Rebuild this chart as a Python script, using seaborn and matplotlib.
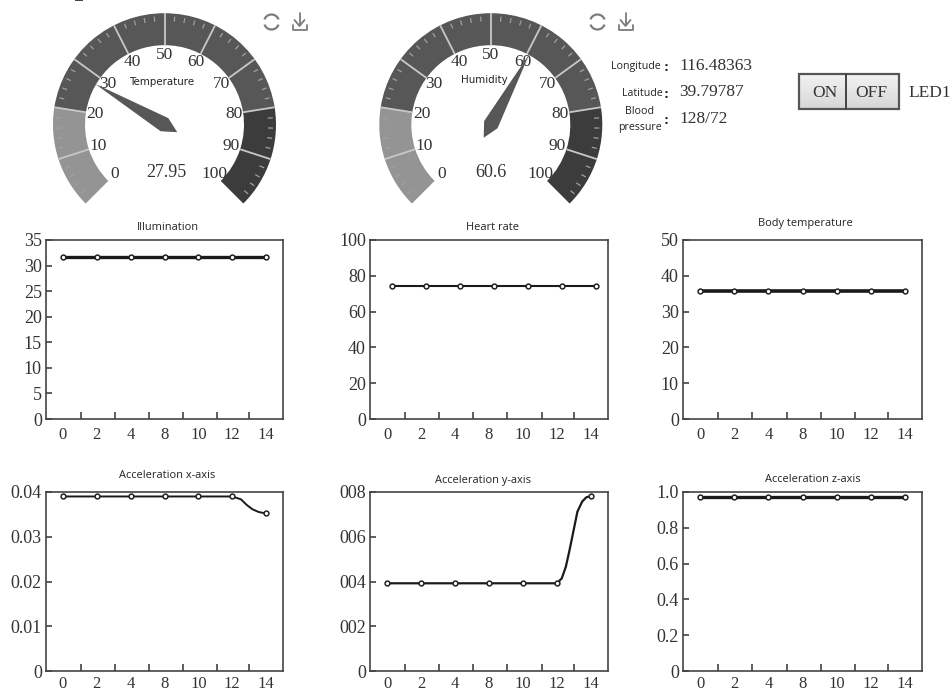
import numpy as np
import pandas as pd
import seaborn as sns
import matplotlib.pyplot as plt
from matplotlib.patches import Wedge, Polygon, Rectangle, Arc

# data
index = [0, 1, 2, 3, 4, 5, 6]
x_labels = ['0', '2', '4', '8', '10', '12', '14']
illumination = [31.7, 31.7, 31.7, 31.7, 31.7, 31.7, 31.7]
heart_rate = [74.5, 74.5, 74.5, 74.5, 74.5, 74.5, 74.5]
body_temp = [35.8, 35.8, 35.8, 35.8, 35.8, 35.8, 35.8]
acc_x = [0.039, 0.039, 0.039, 0.039, 0.039, 0.039, 0.0352]
acc_y = [3.92, 3.92, 3.92, 3.92, 3.92, 3.92, 7.82]
acc_z = [0.97, 0.97, 0.97, 0.97, 0.97, 0.97, 0.97]

# the curved end of the two acceleration lines
acc_x_bend_pos = [5, 5.26, 5.43, 5.6, 5.78, 6]
acc_x_bend = [0.039, 0.03836, 0.0371, 0.03613, 0.03553, 0.0352]
acc_y_bend_pos = [5, 5.14, 5.26, 5.37, 5.49, 5.6, 5.74, 5.86, 6]
acc_y_bend = [3.92, 4.14, 4.66, 5.41, 6.30, 7.12, 7.57, 7.76, 7.82]

gauge_ticks = [0, 10, 20, 30, 40, 50, 60, 70, 80, 90, 100]
gauge_bands = [0, 20, 80, 100]
gauge_colors = ['#949494', '#575757', '#3c3c3c']
temperature = 27.95
humidity = 60.6

W, H = 950, 691
sns.set_theme(style='white')
plt.rcParams['font.family'] = ['Liberation Serif', 'DejaVu Sans']
fig = plt.figure(figsize=(W / 100, H / 100), dpi=100)
ink = '#333333'


def add_chart(left, top, right, bottom, pos, values, ymax, yticks, ylabels, lw=2, shift=0.0, bend=None, xpad=6):
    ax = fig.add_axes([left / W, 1 - bottom / H, (right - left) / W, (bottom - top) / H])
    df = pd.DataFrame({'pos': np.array(pos) + shift, 'value': values})
    if bend is None:
        sns.lineplot(data=df, x='pos', y='value', color='#1a1a1a', lw=lw, ax=ax)
    else:
        head = pd.DataFrame({'pos': pos[:6], 'value': values[:6]})
        tail = pd.DataFrame({'pos': bend[0], 'value': bend[1]})
        sns.lineplot(data=pd.concat([head, tail[1:]]), x='pos', y='value', color='#1a1a1a', lw=lw, ax=ax,
                     sort=False, estimator=None)
    sns.scatterplot(data=df, x='pos', y='value', color='white', edgecolor='#222222', s=12, linewidth=1.1,
                    zorder=5, ax=ax)
    ax.set_xlim(-0.5, 6.5)
    ax.set_ylim(0, ymax)
    ax.set_xlabel('')
    ax.set_ylabel('')
    ax.set_xticks(index, x_labels)
    ax.set_xticks([0.52, 1.53, 2.54, 3.54, 4.55, 5.5], minor=True)
    ax.set_yticks(yticks, ylabels)
    ax.tick_params(axis='x', which='major', length=0, pad=xpad, labelsize=12, labelcolor=ink)
    ax.tick_params(axis='x', which='minor', direction='in', bottom=True, length=5, width=1.1, color=ink)
    ax.tick_params(axis='y', direction='in', left=True, length=4, width=1.1, pad=3, labelsize=13, color=ink,
                   labelcolor=ink)
    for s in ax.spines.values():
        s.set_color('#444444')
        s.set_linewidth(1.2)
    return ax


add_chart(46, 240, 283, 419, index, illumination, 35, [0, 5, 10, 15, 20, 25, 30, 35],
          ['0', '5', '10', '15', '20', '25', '30', '35'], lw=2.4)
add_chart(370, 240, 608, 419, index, heart_rate, 100, [0, 20, 40, 60, 80, 100],
          ['0', '20', '40', '60', '80', '100'], lw=1.5, shift=0.16)
add_chart(683, 240, 922, 419, index, body_temp, 50, [0, 10, 20, 30, 40, 50],
          ['0', '10', '20', '30', '40', '50'], lw=2.6)
add_chart(46, 492, 283, 671, index, acc_x, 0.04, [0, 0.01, 0.02, 0.03, 0.04],
          ['0', '0.01', '0.02', '0.03', '0.04'], lw=1.4, bend=(acc_x_bend_pos, acc_x_bend), xpad=3.5)
add_chart(370, 492, 608, 671, index, acc_y, 8, [0, 2, 4, 6, 8],
          ['0', '002', '004', '006', '008'], lw=1.6, bend=(acc_y_bend_pos, acc_y_bend), xpad=3.5)
add_chart(683, 492, 922, 671, index, acc_z, 1.0, [0, 0.2, 0.4, 0.6, 0.8, 1.0],
          ['0', '0.2', '0.4', '0.6', '0.8', '1.0'], lw=2.4, xpad=3.5)

# overlay in pixel units for the gauges and the panel at the top
over = fig.add_axes([0, 0, 1, 1], facecolor='none')
over.set_xlim(0, W)
over.set_ylim(0, H)
over.axis('off')


def ang(v):
    return np.deg2rad(225 - v * 2.7)


def draw_gauge(cx, cy, value, name, name_x, name_y, readout_x, readout_y):
    cy = H - cy
    r_out, r_in = 111.5, 79.5
    for a, b, c in zip(gauge_bands[:-1], gauge_bands[1:], gauge_colors):
        over.add_patch(Wedge((cx, cy), r_out, 225 - b * 2.7, 225 - a * 2.7, width=r_out - r_in, fc=c, ec='none'))
    for v in np.arange(0, 100.1, 2):
        t = ang(v)
        if v % 10 == 0:
            if v in (0, 100):
                continue
            r0, r1, col, w = r_in, r_out, '#c8c8c8', 1.3
        else:
            r0, r1, col, w = r_out - 8, r_out - 3, '#a0a0a0', 0.9
        over.plot([cx + r0 * np.cos(t), cx + r1 * np.cos(t)], [cy + r0 * np.sin(t), cy + r1 * np.sin(t)],
                  color=col, lw=w, solid_capstyle='butt')
    for v in gauge_ticks:
        t = ang(v)
        over.text(cx + 70 * np.cos(t), cy + 70 * np.sin(t), str(v), ha='center', va='center', fontsize=12.5, color=ink)
    t = ang(value)
    d = np.array([np.cos(t), np.sin(t)])
    n = np.array([-d[1], d[0]])
    c0 = np.array([cx, cy])
    over.add_patch(Polygon([c0 + 80.7 * d, c0 + 7.6 * n, c0 - 14.8 * d, c0 - 7.6 * n], fc='#575757', ec='none', zorder=4))
    over.text(name_x, H - name_y, name, ha='center', va='center', fontsize=7.4, family='DejaVu Sans', color='#222222', zorder=5)
    over.text(readout_x, H - readout_y, str(value), ha='center', va='center', fontsize=13, color=ink)


def draw_icons(x0, x1, y):
    y = H - y
    grey = '#7c7c7c'
    over.add_patch(Arc((x0, y), 15, 15, theta1=20, theta2=160, color=grey, lw=1.6))
    over.add_patch(Arc((x0, y), 15, 15, theta1=200, theta2=340, color=grey, lw=1.6))
    over.plot([x1, x1], [y + 9, y - 3], color=grey, lw=1.3)
    over.plot([x1 - 5, x1, x1 + 5], [y + 2, y - 4, y + 2], color=grey, lw=1.3)
    over.plot([x1 - 7, x1 - 7, x1 + 7, x1 + 7], [y - 3, y - 8, y - 8, y - 3], color=grey, lw=1.3)


draw_gauge(164.5, 124.7, temperature, 'Temperature', 161.5, 82, 166, 172)
draw_gauge(490.8, 124.7, humidity, 'Humidity', 484, 80, 491, 172)
draw_icons(271.5, 299.5, 22)
draw_icons(597.5, 625.5, 22)
over.add_patch(Rectangle((75, H - 1), 8, 1, fc='#444444', ec='none'))

# chart titles
titles = ['Illumination', 'Heart rate', 'Body temperature', 'Acceleration x-axis', 'Acceleration y-axis', 'Acceleration z-axis']
title_x = [167.5, 492, 805.7, 167, 483, 813]
title_y = [227, 227, 223, 476, 480, 479]
for s, tx, ty in zip(titles, title_x, title_y):
    over.text(tx, H - ty, s, ha='center', va='center', fontsize=7.9, family='Open Sans', color='#222222')

# location readouts
small = dict(ha='right', va='center', fontsize=7.7, family='Open Sans', color='#222222')
over.text(661, H - 66, 'Longitude', **small)
over.text(663, H - 93, 'Latitude', **small)
over.text(639, H - 111, 'Blood', ha='center', va='center', fontsize=7.7, family='Open Sans', color='#222222')
over.text(662, H - 127, 'pressure', **small)
for yy in (67, 94, 120):
    over.text(666, H - yy, ':', ha='center', va='center', fontsize=11, fontweight='bold', color='#222222')
big = dict(ha='left', va='center', fontsize=12.5, color=ink)
over.text(679, H - 66, '116.48363', **big)
over.text(679, H - 92, '39.79787', **big)
over.text(679, H - 119, '128/72', **big)

# LED switch
grad = np.linspace(0.95, 0.84, 32).reshape(-1, 1)
over.imshow(grad, extent=(799, 899, H - 109, H - 74), cmap='gray', vmin=0, vmax=1, aspect='auto', zorder=1)
over.set_xlim(0, W)
over.set_ylim(0, H)
over.add_patch(Rectangle((799, H - 109), 100, 35, fc='none', ec='#555555', lw=1.6, zorder=2))
over.plot([846, 846], [H - 109, H - 74], color='#444444', lw=1.4, zorder=2)
over.text(825, H - 93, 'ON', ha='center', va='center', fontsize=12.5, color=ink, zorder=3)
over.text(871, H - 93, 'OFF', ha='center', va='center', fontsize=12.5, color=ink, zorder=3)
over.text(908, H - 93, 'LED1', ha='left', va='center', fontsize=12.5, color=ink)

fig.savefig('out.png', dpi=100)
